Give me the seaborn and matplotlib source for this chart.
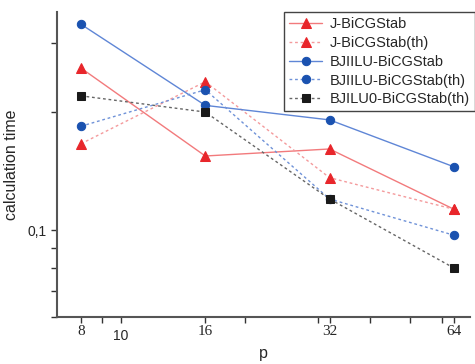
import matplotlib
matplotlib.use("Agg")
import matplotlib.pyplot as plt
import seaborn as sns
import pandas as pd
from matplotlib.ticker import NullFormatter

sns.set_style("ticks")
plt.rcParams['font.family'] = ['Liberation Sans', 'DejaVu Sans']

p = [8, 16, 32, 64]
j_bicg = [0.259, 0.1545, 0.161, 0.113]
j_bicg_th = [0.166, 0.239, 0.136, 0.113]
bjiilu = [0.335, 0.208, 0.191, 0.145]
bjiilu_th = [0.184, 0.228, 0.120, 0.097]
bjilu0_th = [0.220, 0.200, 0.120, 0.080]

series = [
    ("J-BiCGStab", j_bicg, "#F27A7C", "#E8262B", "^", "-", 7),
    ("J-BiCGStab(th)", j_bicg_th, "#F49A9C", "#E8262B", "^", (0, (2, 2)), 7),
    ("BJIILU-BiCGStab", bjiilu, "#5F86D6", "#1A52B0", "o", "-", 6),
    ("BJIILU-BiCGStab(th)", bjiilu_th, "#6F92D8", "#1A52B0", "o", (0, (2, 2)), 6),
    ("BJILU0-BiCGStab(th)", bjilu0_th, "#666666", "#1A1A1A", "s", (0, (2, 2)), 5.5),
]

fig = plt.figure(figsize=(4.75, 3.64), dpi=100)
ax = fig.add_axes([57/475, 1-317/364, (470-57)/475, (317-12)/364])

for name, vals, lc, mc, mk, ls, ms in series:
    df = pd.DataFrame({"p": p, "t": vals})
    sns.lineplot(data=df, x="p", y="t", ax=ax, color=lc, linestyle=ls, linewidth=1.0,
                 marker=mk, markersize=ms, markerfacecolor=mc,
                 markeredgecolor=mc, label=name)

ax.set_xscale("log")
ax.set_yscale("log")
ax.set_xlim(7, 70)
ax.set_ylim(0.06, 0.36)

ax.set_xticks([10], labels=["10"])
ax.set_xticks([8, 9, 16, 20, 30, 32, 40, 50, 60, 64],
              labels=["8", "", "16", "", "", "32", "", "", "", "64"], minor=True)
ax.tick_params(axis="x", which="major", length=4, width=1, pad=5, labelsize=10, color="#333333")
ax.tick_params(axis="x", which="minor", length=4, width=1, pad=2, labelsize=11,
               labelfontfamily="Liberation Serif", color="#333333")

ax.set_yticks([0.1], labels=["0,1"])
ax.set_yticks([0.06, 0.07, 0.08, 0.09, 0.2, 0.3], minor=True)
ax.yaxis.set_minor_formatter(NullFormatter())
ax.tick_params(axis="y", which="both", length=4, width=1, labelsize=10, color="#333333")

for s in ["top", "right"]:
    ax.spines[s].set_visible(False)
for s in ["left", "bottom"]:
    ax.spines[s].set_linewidth(1.5)
    ax.spines[s].set_color("#555555")

ax.set_xlabel("p", fontsize=11.5, labelpad=2)
ax.set_ylabel("calculation time", fontsize=11.5, labelpad=6)

leg = ax.legend(loc="upper right", bbox_to_anchor=(475/475, 1-12/364),
                bbox_transform=fig.transFigure, fontsize=10.5, frameon=True,
                fancybox=False, edgecolor="#444444", framealpha=1,
                handlelength=2.3, labelspacing=0.33, borderpad=0.35, handletextpad=0.5,
                borderaxespad=0)
leg.get_frame().set_linewidth(1.0)

fig.savefig("out.png", dpi=100)
